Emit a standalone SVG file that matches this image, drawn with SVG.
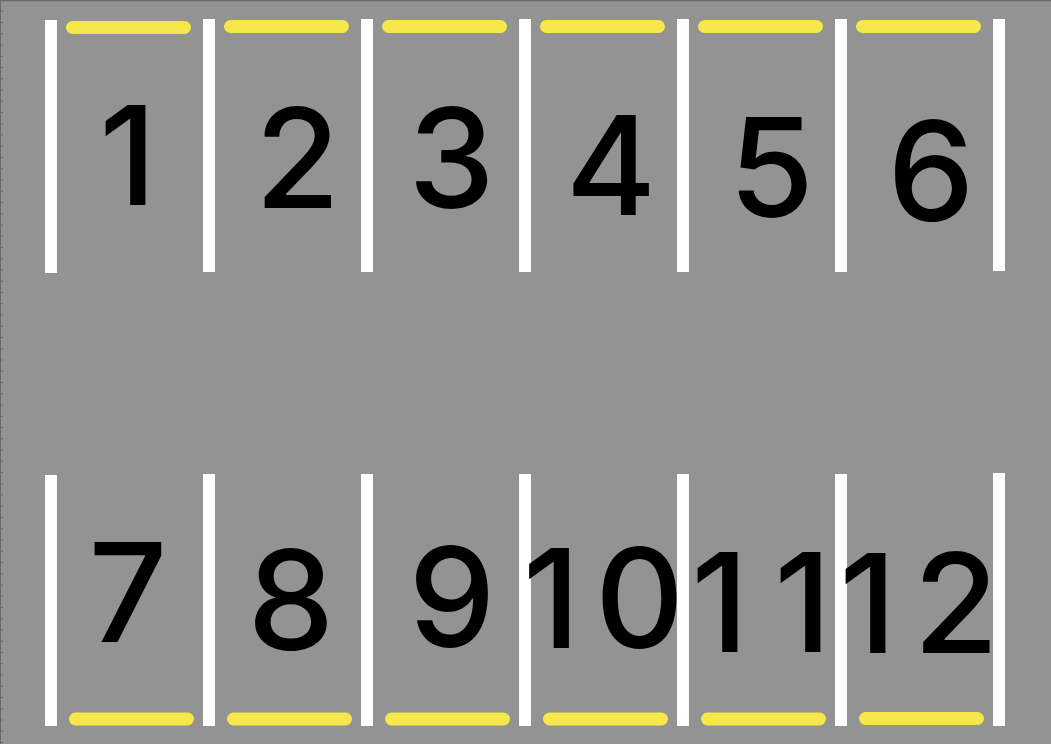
<svg xmlns="http://www.w3.org/2000/svg" width="1051" height="744" viewBox="0 0 1051 744">
  <defs>
    <style>
      .bg { fill: #939393; }
      .bar { fill: #ffffff; }
      .stop { stroke: #f6e84b; stroke-width: 13; stroke-linecap: round; fill: none; }
      .num { font-family: Inter, "Noto Sans", "DejaVu Sans", sans-serif; font-size: 138px; font-weight: 500; fill: #000000; text-anchor: middle; }
      .edge { stroke: #6a6a6a; fill: none; }
    </style>
  </defs>
  <rect class="bg" x="0" y="0" width="1051" height="744"/>
  <g id="frame">
    <line class="edge" x1="0" y1="0.5" x2="1051" y2="0.5" stroke-width="1.5"/>
    <line class="edge" x1="0.5" y1="0" x2="0.5" y2="744" stroke-width="1"/>
    <line class="edge" x1="1.5" y1="0" x2="1.5" y2="744" stroke-width="3" stroke-dasharray="1 10.25" stroke-dashoffset="-10.7"/>
  </g>
  <g id="connectors"/>
  <g id="slot-1"><rect class="bar" x="45" y="20" width="12" height="253"/><line class="stop" x1="72.5" y1="27.5" x2="184.5" y2="27.5"/><text class="num" x="128" y="205">1</text></g>
  <g id="slot-2"><rect class="bar" x="203" y="19" width="12" height="253"/><line class="stop" x1="230.5" y1="26.5" x2="342.5" y2="26.5"/><text class="num" x="297.5" y="208">2</text></g>
  <g id="slot-3"><rect class="bar" x="361" y="19" width="12" height="253"/><line class="stop" x1="388.5" y1="26.5" x2="500.5" y2="26.5"/><text class="num" x="451.5" y="207.5">3</text></g>
  <g id="slot-4"><rect class="bar" x="519" y="19" width="12" height="253"/><line class="stop" x1="546.5" y1="26.5" x2="658.5" y2="26.5"/><text class="num" x="611" y="215">4</text></g>
  <g id="slot-5"><rect class="bar" x="677" y="19" width="12" height="253"/><line class="stop" x1="704.5" y1="26.5" x2="816.5" y2="26.5"/><text class="num" x="771.5" y="216.5">5</text></g>
  <g id="slot-6"><rect class="bar" x="835" y="19" width="12" height="253"/><line class="stop" x1="862.5" y1="26.5" x2="974.5" y2="26.5"/><text class="num" x="931" y="220.5">6</text></g>
  <g id="slot-6-end"><rect class="bar" x="993" y="19" width="12" height="252"/></g>

  <g id="slot-7"><rect class="bar" x="45" y="475" width="12" height="251"/><line class="stop" x1="75.5" y1="719" x2="187.5" y2="719"/><text class="num" x="128" y="642">7</text></g>
  <g id="slot-8"><rect class="bar" x="203" y="474" width="12" height="252"/><line class="stop" x1="233.5" y1="719" x2="345.5" y2="719"/><text class="num" x="291" y="649.5">8</text></g>
  <g id="slot-9"><rect class="bar" x="361" y="474" width="12" height="252"/><line class="stop" x1="391.5" y1="719" x2="503.5" y2="719"/><text class="num" x="452" y="647">9</text></g>
  <g id="slot-10"><rect class="bar" x="519" y="474" width="12" height="252"/><line class="stop" x1="549.5" y1="719" x2="661.5" y2="719"/><text class="num" x="551.5 639.5" y="648">10</text></g>
  <g id="slot-11"><rect class="bar" x="677" y="474" width="12" height="252"/><line class="stop" x1="707.5" y1="719" x2="819.5" y2="719"/><text class="num" x="720 803" y="652">11</text></g>
  <g id="slot-12"><rect class="bar" x="835" y="474" width="12" height="252"/><line class="stop" x1="865.5" y1="718.5" x2="977.5" y2="718.5"/><text class="num" x="868 956" y="653">12</text></g>
  <g id="slot-12-end"><rect class="bar" x="993" y="473" width="12" height="253"/></g>
</svg>
